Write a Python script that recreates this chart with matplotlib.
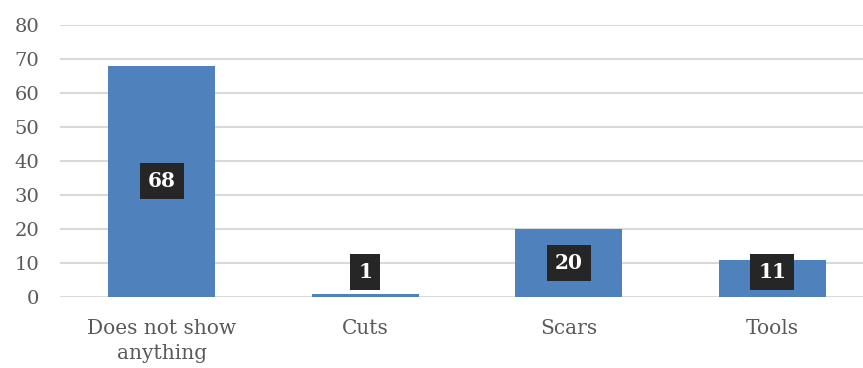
import matplotlib.pyplot as plt

categories = ['Does not show\nanything', 'Cuts', 'Scars', 'Tools']
counts = [68, 1, 20, 11]
y_ticks = [0, 10, 20, 30, 40, 50, 60, 70, 80]

bar_color = '#4F81BD'
text_color = '#595959'
grid_color = '#D9D9D9'

plt.rcParams['font.family'] = ['DejaVu Serif']

fig = plt.figure(figsize=(8.63, 3.68), dpi=100)
ax = fig.add_axes([60 / 863, 1 - 297 / 368, 803 / 863, 272 / 368])

x = list(range(len(categories)))
ax.bar(x, counts, width=0.526, color=bar_color, zorder=2)

# value labels in dark boxes, kept clear of the baseline for short bars
for xi, v in zip(x, counts):
    ax.text(xi, max(v / 2, 7.4), str(v), ha='center', va='center',
            color='white', fontsize=14.5, fontweight='bold', zorder=3,
            bbox=dict(boxstyle='square,pad=0.4', fc='#262626', ec='none'))

ax.set_xlim(-0.5, 3.446)
ax.set_ylim(0, 80)
ax.set_yticks(y_ticks)
ax.set_xticks(x)
ax.set_xticklabels(categories, linespacing=1.4)
ax.yaxis.grid(True, color=grid_color, linewidth=1.5, zorder=0)
ax.set_axisbelow(True)

for side in ['top', 'right', 'left', 'bottom']:
    ax.spines[side].set_visible(False)

ax.tick_params(axis='y', length=0, labelsize=14, colors=text_color, pad=15)
ax.tick_params(axis='x', length=0, labelsize=14.5, colors=text_color, pad=16)

fig.savefig('out.png', dpi=100)
